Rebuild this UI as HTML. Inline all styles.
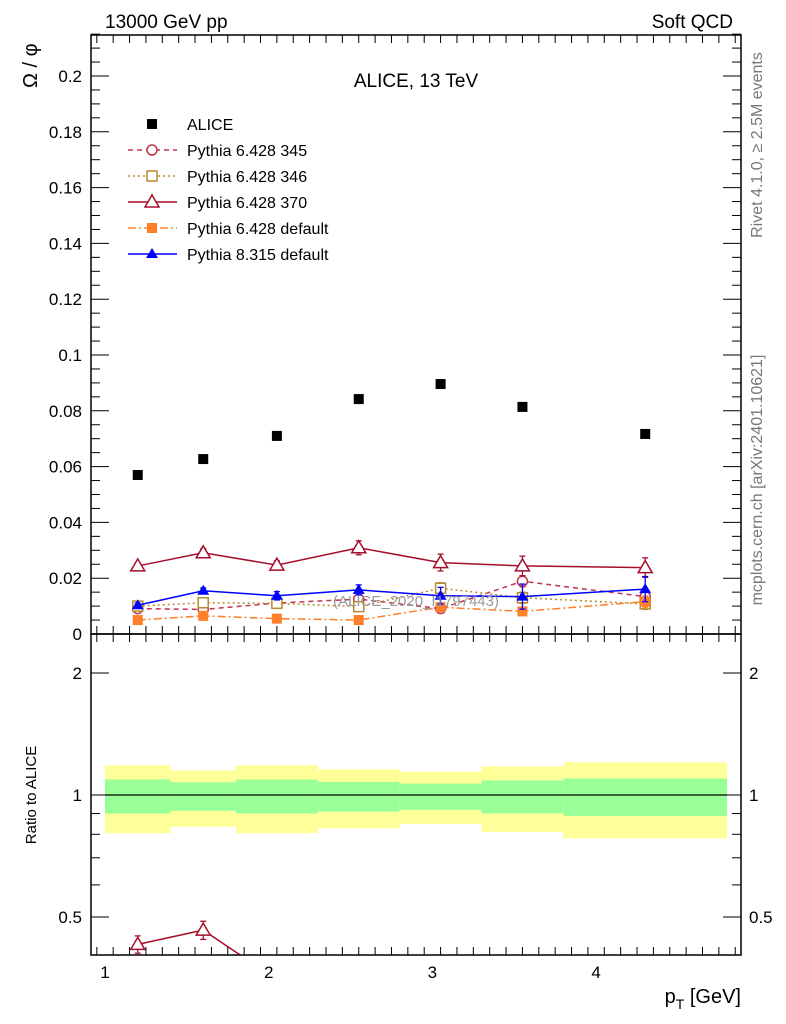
<!DOCTYPE html>
<html><head><meta charset="utf-8"><style>
html,body{margin:0;padding:0;background:#fff;overflow:hidden;width:786px;height:1024px;}
svg{display:block;}
svg text{font-family:"Liberation Sans",sans-serif;}
</style></head><body>
<svg id="chart" width="786" height="1024" viewBox="0 0 786 1024" xmlns="http://www.w3.org/2000/svg">
<defs>
<clipPath id="clipMain"><rect x="91" y="35" width="650" height="599"/></clipPath>
<clipPath id="clipRatio"><rect x="91" y="634" width="650" height="321"/></clipPath>
</defs>
<g id="bands"></g>
<g id="series"></g>
<g id="axes"></g>
<text x="105" y="28" font-size="19">13000 GeV pp</text>
<text x="733" y="28" font-size="19" text-anchor="end">Soft QCD</text>
<text x="416" y="87" font-size="19" text-anchor="middle">ALICE, 13 TeV</text>
<text x="416" y="606" font-size="15" fill="#999" text-anchor="middle">(ALICE_2020_I1797443)</text>
<text transform="translate(762,145) rotate(-90)" font-size="16" fill="#777" text-anchor="middle">Rivet 4.1.0, ≥ 2.5M events</text>
<text transform="translate(762,480) rotate(-90)" font-size="16" fill="#777" text-anchor="middle">mcplots.cern.ch [arXiv:2401.10621]</text>
<text transform="translate(37,88) rotate(-90)" font-size="20">Ω / φ</text>
<text transform="translate(36,795) rotate(-90)" font-size="15" text-anchor="middle">Ratio to ALICE</text>
<text x="741" y="1003" font-size="20" text-anchor="end">p<tspan font-size="14" dy="6">T</tspan><tspan dy="-6"> [GeV]</tspan></text>
<g id="legend"></g>
</svg>
<script>
const binEdges=[1.0,1.4,1.8,2.3,2.8,3.3,3.8,4.8];
const xCenters=[1.2,1.6,2.05,2.55,3.05,3.55,4.3];
const aliceVals=[0.057,0.0627,0.071,0.0842,0.0896,0.0814,0.0717];
const bandStatHi=[1.092,1.075,1.092,1.077,1.067,1.086,1.098];
const bandStatLo=[0.900,0.914,0.900,0.910,0.919,0.901,0.888];
const bandTotHi=[1.184,1.150,1.184,1.157,1.141,1.177,1.204];
const bandTotLo=[0.805,0.835,0.805,0.828,0.848,0.811,0.782];
const p345=[0.0091,0.0088,0.0111,0.0125,0.0091,0.0189,0.0134];
const p345err=[0.001,0.001,0.001,0.0015,0.0015,0.002,0.002];
const p346=[0.0100,0.0112,0.0110,0.0098,0.0164,0.0130,0.0108];
const p346err=[0.001,0.001,0.001,0.001,0.002,0.002,0.002];
const p370=[0.0244,0.0291,0.0247,0.0309,0.0256,0.0244,0.0238];
const p370err=[0.0012,0.0015,0.0015,0.0025,0.003,0.0035,0.0035];
const p6def=[0.0050,0.0065,0.0055,0.0050,0.0096,0.0081,0.0116];
const p6deferr=[0.0005,0.0008,0.0005,0.0005,0.0015,0.0015,0.002];
const p8def=[0.0103,0.0155,0.0137,0.0158,0.0137,0.0134,0.0161];
const p8deferr=[0.0008,0.001,0.0015,0.0018,0.003,0.0045,0.0045];
const yTicks=[0,0.02,0.04,0.06,0.08,0.1,0.12,0.14,0.16,0.18,0.2];
const yTickLabels=["0","0.02","0.04","0.06","0.08","0.1","0.12","0.14","0.16","0.18","0.2"];
const xTicks=[1,2,3,4];
const rTicks=[0.5,1,2];
const rTickLabels=["0.5","1","2"];

const NS="http://www.w3.org/2000/svg";
const X=v=>105+(v-1)*163.7;
const Y=v=>634-v*2790;
const R=v=>795-122*Math.log2(v);
function mk(tag,attrs,parent){const e=document.createElementNS(NS,tag);for(const k in attrs)e.setAttribute(k,attrs[k]);parent.appendChild(e);return e;}
const bands=document.getElementById('bands'),axes=document.getElementById('axes'),series=document.getElementById('series'),legend=document.getElementById('legend');

for(let i=0;i<xCenters.length;i++){
  let r=mk('rect',{x:X(binEdges[i]),y:R(bandTotHi[i]),width:X(binEdges[i+1])-X(binEdges[i]),height:R(bandTotLo[i])-R(bandTotHi[i]),fill:'#ffff99'},bands);
  
  
  let g=mk('rect',{x:X(binEdges[i]),y:R(bandStatHi[i]),width:X(binEdges[i+1])-X(binEdges[i]),height:R(bandStatLo[i])-R(bandStatHi[i]),fill:'#99ff99'},bands);
  
  
}
let ref=mk('line',{x1:X(binEdges[0]),x2:X(binEdges[7]),y1:R(1),y2:R(1),stroke:'#000','stroke-width':1.2},bands);



let f1=mk('rect',{x:91,y:35,width:650,height:599,fill:'none',stroke:'#000','stroke-width':1.5},axes);


let f2=mk('rect',{x:91,y:634,width:650,height:321,fill:'none',stroke:'#000','stroke-width':1.5},axes);



for(let v=0;v<=0.2151;v+=0.005){
  const major=Math.abs(v/0.02-Math.round(v/0.02))<1e-6; const L=major?18:9; const y=Y(v);
  mk('line',{x1:91,x2:91+L,y1:y,y2:y,stroke:'#000'},axes);
  mk('line',{x1:741,x2:741-L,y1:y,y2:y,stroke:'#000'},axes);
}
yTicks.forEach((v,i)=>{const t=mk('text',{x:82,y:Y(v)+6,'font-size':17,'text-anchor':'end'},axes);t.textContent=yTickLabels[i];

});
for(let v=0.95;v<=4.88;v+=0.1){
  const major=Math.abs(v-Math.round(v))<1e-6; const L=major?18:8; const x=X(v);
  mk('line',{x1:x,x2:x,y1:634,y2:634-L,stroke:'#000'},axes);
  mk('line',{x1:x,x2:x,y1:955,y2:955-L,stroke:'#000'},axes);
  mk('line',{x1:x,x2:x,y1:35,y2:35+L,stroke:'#000'},axes);
  mk('line',{x1:x,x2:x,y1:634,y2:634+L,stroke:'#000'},axes);
}
xTicks.forEach(v=>{const t=mk('text',{x:X(v),y:978,'font-size':17,'text-anchor':'middle'},axes);t.textContent=v;

});
[0.5,0.6,0.7,0.8,0.9,1,2].forEach(v=>{const major=rTicks.includes(v);const L=major?18:9;const y=R(v);
  mk('line',{x1:91,x2:91+L,y1:y,y2:y,stroke:'#000'},axes);mk('line',{x1:741,x2:741-L,y1:y,y2:y,stroke:'#000'},axes);});
rTicks.forEach((v,i)=>{let t=mk('text',{x:82,y:R(v)+6,'font-size':17,'text-anchor':'end'},axes);t.textContent=rTickLabels[i];


let t2=mk('text',{x:749,y:R(v)+6,'font-size':17},axes);t2.textContent=rTickLabels[i];

});

function marker(type,x,y,c,g){
  if(type==='sqf')return mk('rect',{x:x-5,y:y-5,width:10,height:10,fill:c},g);
  if(type==='sqo')return mk('rect',{x:x-5,y:y-5,width:10,height:10,fill:'#fff',stroke:c,'stroke-width':1.5},g);
  if(type==='cir')return mk('circle',{cx:x,cy:y,r:5,fill:'#fff',stroke:c,'stroke-width':1.5},g);
  if(type==='tro')return mk('polygon',{points:`${x},${y-7} ${x-7},${y+5} ${x+7},${y+5}`,fill:'#fff',stroke:c,'stroke-width':1.5},g);
  if(type==='trf')return mk('polygon',{points:`${x},${y-6} ${x-6},${y+4} ${x+6},${y+4}`,fill:c},g);
}
const defs=[
 {name:'pythia-6428-345',vals:p345,err:p345err,c:'#c0344e',dash:'5,4',m:'cir',label:'Pythia 6.428 345'},
 {name:'pythia-6428-346',vals:p346,err:p346err,c:'#b88a30',dash:'2,3',m:'sqo',label:'Pythia 6.428 346'},
 {name:'pythia-6428-370',vals:p370,err:p370err,c:'#a50f2a',dash:'',m:'tro',label:'Pythia 6.428 370'},
 {name:'pythia-6428-default',vals:p6def,err:p6deferr,c:'#ff7f2a',dash:'8,3,2,3',m:'sqf',label:'Pythia 6.428 default'},
 {name:'pythia-8315-default',vals:p8def,err:p8deferr,c:'#0000ff',dash:'',m:'trf',label:'Pythia 8.315 default'}
];
const RMIN=0.35;
defs.forEach(d=>{
  ['main','ratio'].forEach(p=>{
    const g=mk('g',{'clip-path':p==='main'?'url(#clipMain)':'url(#clipRatio)'},series);
    
    
    const ratio=(i,v)=>v/aliceVals[i];
    const fy=p==='main'?(i,v)=>Y(v):(i,v)=>R(Math.max(ratio(i,v),RMIN));
    const pts=d.vals.map((v,i)=>X(xCenters[i])+','+fy(i,v)).join(' ');
    const pl=mk('polyline',{points:pts,fill:'none',stroke:d.c,'stroke-width':1.5,'stroke-dasharray':d.dash},g);
    
    
    d.vals.forEach((v,i)=>{
      if(p==='ratio'&&(ratio(i,v)<0.4||ratio(i,v)>2.5))return;
      const x=X(xCenters[i]);const y1=fy(i,v+d.err[i]),y2=fy(i,Math.max(v-d.err[i],0.0001));
      mk('line',{x1:x,x2:x,y1:y1,y2:y2,stroke:d.c,'stroke-width':1.3},g);
      mk('line',{x1:x-3,x2:x+3,y1:y1,y2:y1,stroke:d.c,'stroke-width':1.3},g);
      mk('line',{x1:x-3,x2:x+3,y1:y2,y2:y2,stroke:d.c,'stroke-width':1.3},g);
      const m=marker(d.m,x,fy(i,v),d.c,g);
      
      });
  });
});
aliceVals.forEach((v,i)=>{const m=marker('sqf',X(xCenters[i]),Y(v),'#000',series);

});

const rows=[{m:'sqf',c:'#000',dash:null,label:'ALICE'}].concat(defs);
rows.forEach((d,i)=>{const y=124+i*26;const g=mk('g',{},legend);
  
  
  if(d.dash!==null)mk('line',{x1:128,x2:177,y1:y,y2:y,stroke:d.c,'stroke-width':1.5,'stroke-dasharray':d.dash},g);
  marker(d.m,152,y,d.c,g);
  const t=mk('text',{x:187,y:y+6,'font-size':16},g);t.textContent=d.label;});
</script>
</body></html>
